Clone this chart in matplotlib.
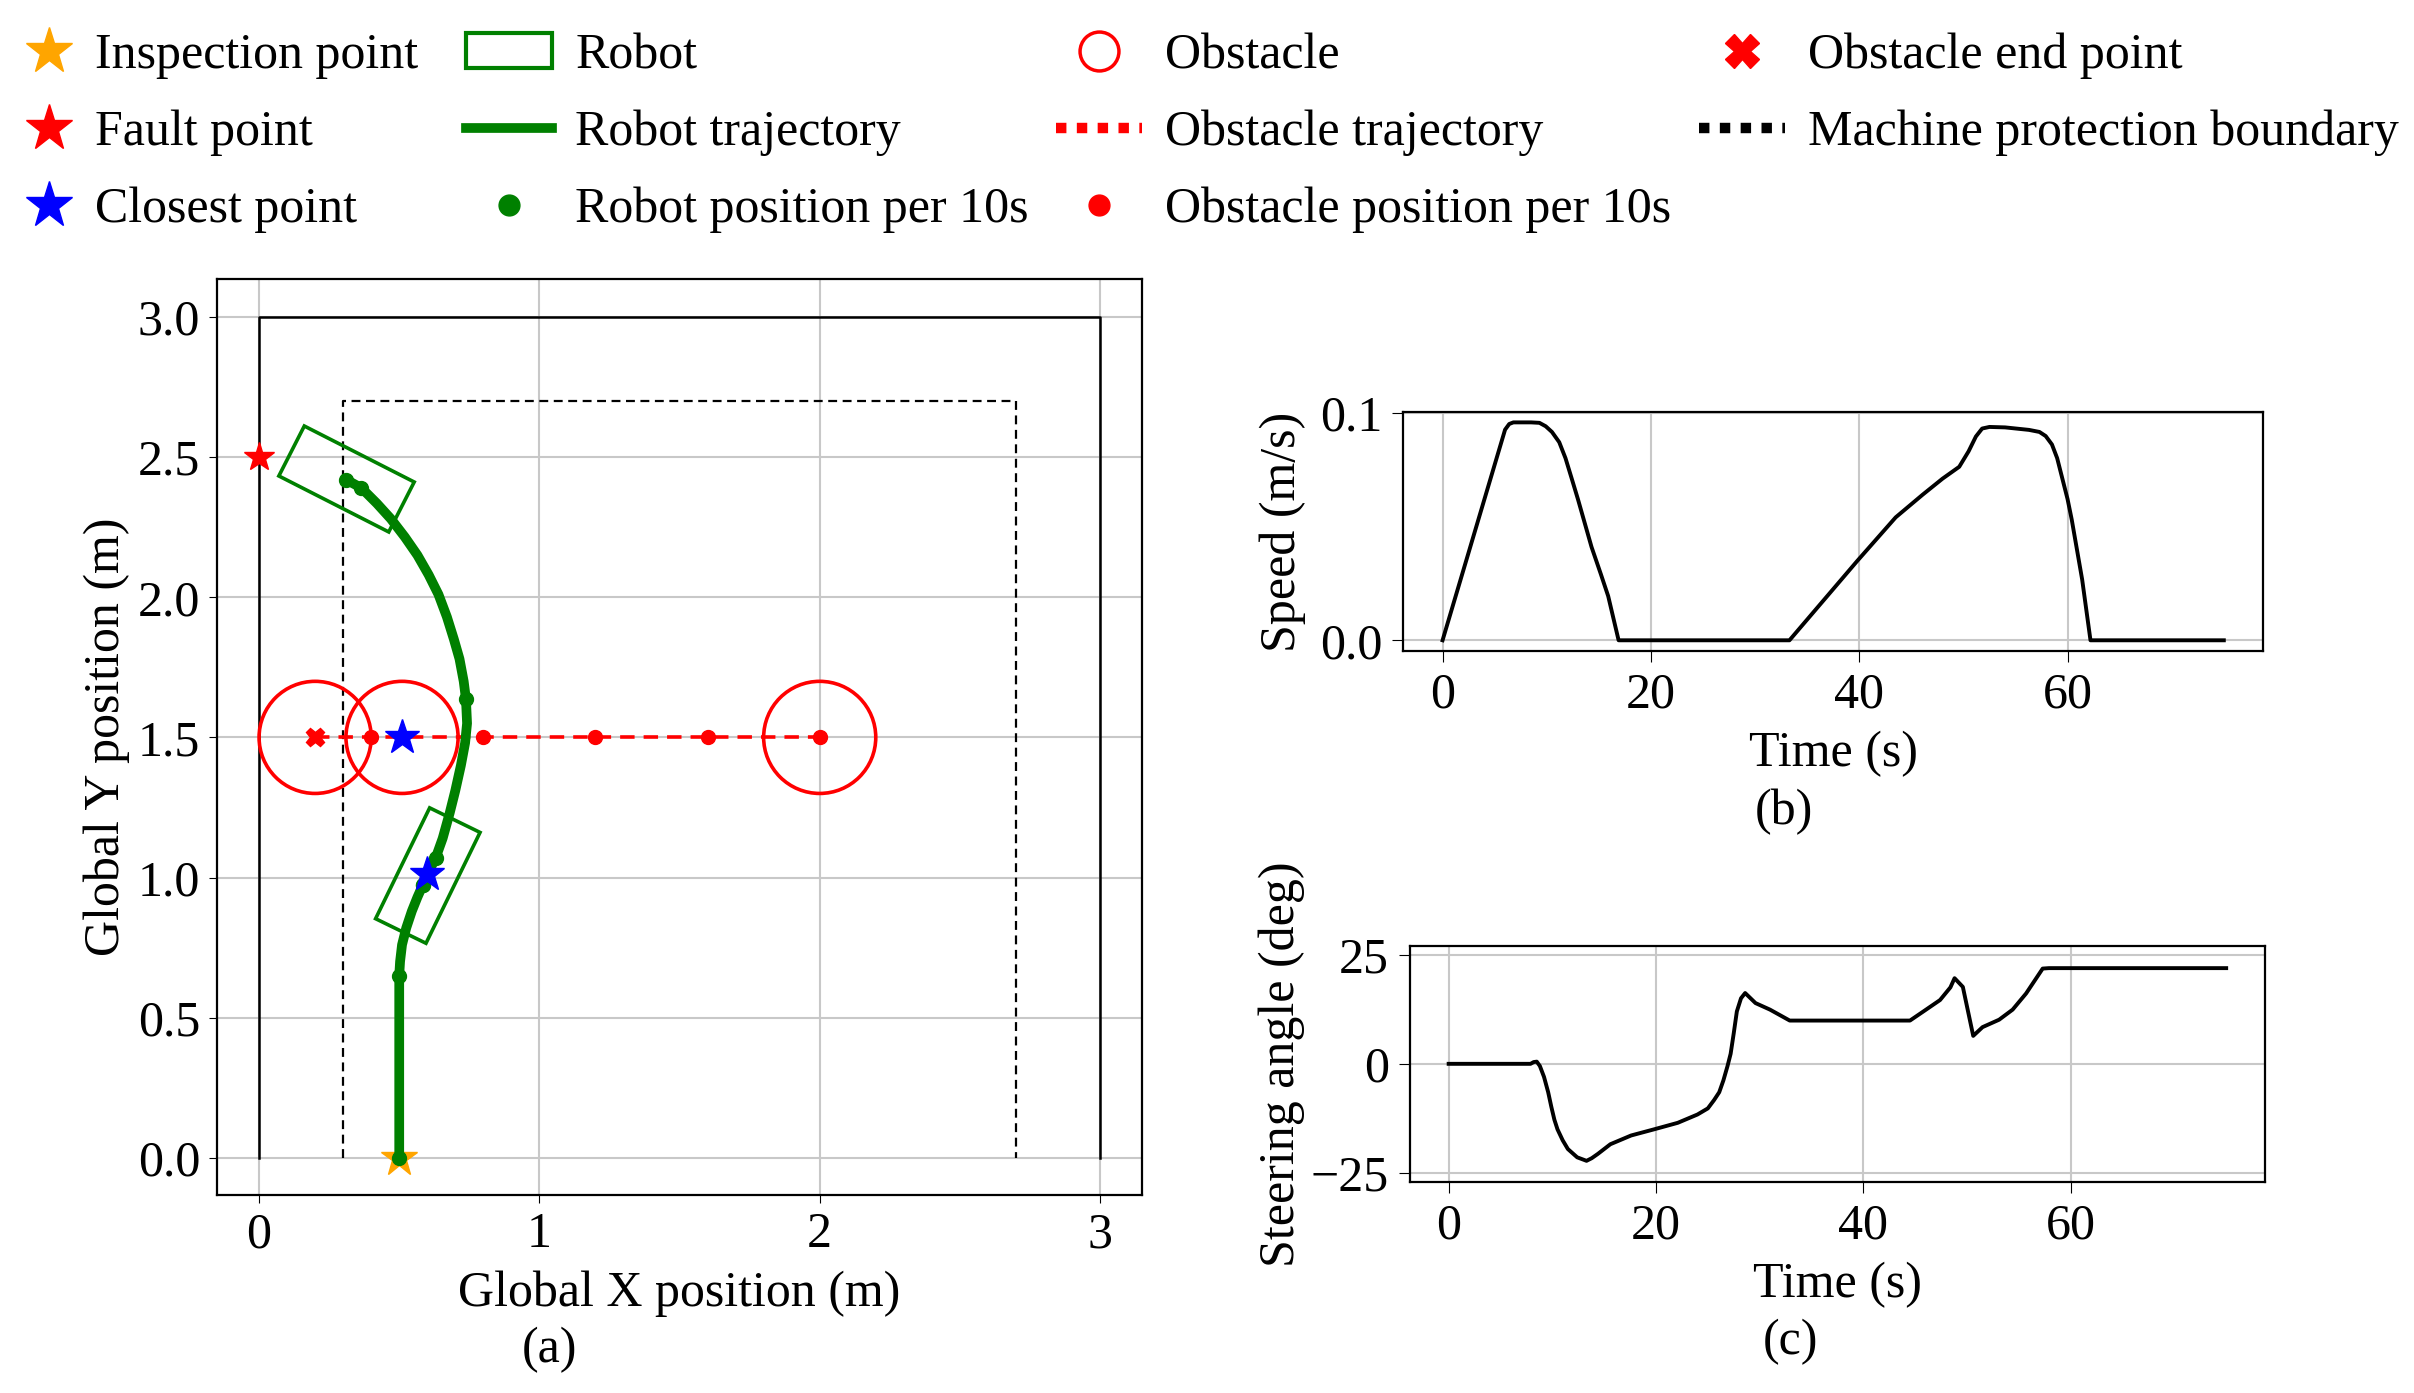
import numpy as np
import matplotlib
matplotlib.use('Agg')
import matplotlib.pyplot as plt
from matplotlib.lines import Line2D
from matplotlib.patches import Patch, Rectangle, Circle

plt.rcParams['font.family'] = 'serif'
plt.rcParams['font.serif'] = ['Liberation Serif', 'DejaVu Serif']
plt.rcParams['font.size'] = 36
plt.rcParams['axes.linewidth'] = 1.6
plt.rcParams['axes.labelpad'] = 6
plt.rcParams['xtick.major.size'] = 6
plt.rcParams['ytick.major.size'] = 6
plt.rcParams['xtick.major.pad'] = 6
plt.rcParams['ytick.major.pad'] = 6

# ---- data ----
# (a) robot path (m)
traj_x = [0.50, 0.50, 0.503, 0.51, 0.525, 0.545, 0.565, 0.585, 0.61, 0.63, 0.655,
          0.68, 0.70, 0.72, 0.735, 0.742, 0.738, 0.73, 0.715, 0.695, 0.67, 0.64,
          0.605, 0.565, 0.52, 0.47, 0.42, 0.385, 0.365, 0.31]
traj_y = [0.00, 0.65, 0.70, 0.76, 0.82, 0.88, 0.93, 0.975, 1.03, 1.07, 1.14,
          1.23, 1.31, 1.40, 1.48, 1.55, 1.637, 1.70, 1.78, 1.85, 1.93, 2.01,
          2.08, 2.15, 2.215, 2.28, 2.335, 2.37, 2.39, 2.42]
# robot position every 10 s (t = 0..70)
rob_x = [0.50, 0.50, 0.585, 0.585, 0.63, 0.738, 0.365, 0.31]
rob_y = [0.00, 0.65, 0.975, 0.975, 1.07, 1.637, 2.39, 2.42]
# robot footprint snapshots
box_cx = [0.602, 0.312]
box_cy = [1.007, 2.422]
box_ang = [64, 153]
robot_len, robot_wid = 0.44, 0.20
# obstacle
obs_pos_x = [2.0, 1.6, 1.2, 0.8, 0.4]
obs_y = 1.5
obs_end_x = 0.2
obs_circle_x = [2.0, 0.51, 0.2]
obs_r = 0.2
# special points
insp_pt = (0.5, 0.0)
fault_pt = (0.0, 2.5)
closest_x = [0.51, 0.598]
closest_y = [1.5, 1.013]
# boundaries
wall = 3.0
protect_lo, protect_hi = 0.3, 2.7

# (b) speed
t_speed = [0, 6.0, 6.4, 6.8, 8.5, 9.3, 9.9, 10.5, 11.2, 11.8, 12.4, 13.0, 14.3,
           15.2, 15.9, 16.9, 33.3, 39.8, 43.5, 46.1, 48.0, 49.6, 50.5, 51.2,
           51.8, 52.5, 54.0, 56.3, 57.3, 57.9, 58.5, 59.0, 59.5, 60.0, 60.4,
           61.4, 62.2, 75]
speed = [0, 0.0925, 0.095, 0.0957, 0.0957, 0.0955, 0.094, 0.0915, 0.087, 0.080,
         0.071, 0.0619, 0.041, 0.029, 0.0194, 0, 0, 0.0348, 0.054, 0.064, 0.071,
         0.0762, 0.083, 0.0895, 0.093, 0.0937, 0.0935, 0.0924, 0.0915, 0.0897,
         0.086, 0.080, 0.071, 0.062, 0.053, 0.0267, 0, 0]

# (c) steering angle
t_steer = [0, 7.9, 8.2, 8.5, 8.8, 9.2, 9.6, 9.9, 10.2, 10.5, 11.0, 11.5, 12.4, 13.3,
           13.8, 14.4, 15.6, 17.6, 19.8, 22.1, 24.0, 25.0, 25.6, 26.1, 26.5, 26.9,
           27.2, 27.5, 27.8, 28.2, 28.6, 29.6, 31.0, 32.9, 44.5, 45.8, 47.4, 48.4,
           48.8, 49.6, 50.6, 51.5, 53.1, 54.4, 55.7, 57.3, 57.9, 75]
steer = [0, 0, 0.4, 0.5, -0.5, -3, -6.5, -9.8, -12.8, -15, -17.5, -19.5, -21.4,
         -22.2, -21.6, -20.6, -18.4, -16.4, -15, -13.5, -11.6, -10.2, -8.3, -6.5,
         -3.8, -0.5, 2.3, 7, 12, 15, 16.2, 13.9, 12.4, 9.9, 9.9, 12.0, 14.6, 17.5,
         19.6, 17.6, 6.4, 8.4, 10.1, 12.4, 16.1, 21.8, 21.9, 21.9]

fig = plt.figure(figsize=(24.14, 13.93), dpi=100)

# ---------------- (a) ----------------
ax = fig.add_axes([0.0899, 0.1421, 0.3832, 0.6577])
ax.grid(True, color='#c8c8c8', lw=1.5, zorder=0)
ax.plot([0, 0, wall, wall], [0, wall, wall, 0], color='black', lw=1.8, zorder=2)
ax.plot([protect_lo, protect_lo, protect_hi, protect_hi],
        [0, protect_hi, protect_hi, 0], color='black', lw=1.6, ls=(0, (4, 2.5)), zorder=2)

ax.plot([obs_end_x, obs_pos_x[0]], [obs_y, obs_y], color='red', lw=2.6, ls=(0, (4, 2.5)), zorder=3)
for cx in obs_circle_x:
    ax.add_patch(Circle((cx, obs_y), obs_r, fill=False, edgecolor='red', lw=2.6, zorder=3))
ax.plot(obs_pos_x, [obs_y] * len(obs_pos_x), 'o', color='red', ms=10, zorder=4)
ax.plot(obs_end_x, obs_y, 'X', color='red', ms=13, zorder=4)

ax.plot(insp_pt[0], insp_pt[1], '*', color='orange', ms=28, zorder=4)
ax.plot(traj_x, traj_y, color='green', lw=7, solid_capstyle='round',
        solid_joinstyle='round', zorder=5)
for cx, cy, a in zip(box_cx, box_cy, box_ang):
    ax.add_patch(Rectangle((cx - robot_len / 2, cy - robot_wid / 2), robot_len, robot_wid,
                           angle=a, rotation_point='center', fill=False,
                           edgecolor='green', lw=2.6, zorder=5))
ax.plot(rob_x, rob_y, 'o', color='green', ms=10, zorder=6)
ax.plot(fault_pt[0], fault_pt[1], '*', color='red', ms=22, zorder=6)
ax.plot(closest_x, closest_y, '*', color='blue', ms=26, zorder=7)

ax.set_xlim(-0.15, 3.15)
ax.set_ylim(-0.133, 3.136)
ax.set_xticks([0, 1, 2, 3])
ax.set_yticks(np.arange(0, 3.01, 0.5))
ax.set_yticklabels(['0.0', '0.5', '1.0', '1.5', '2.0', '2.5', '3.0'])
ax.set_xlabel('Global X position (m)', labelpad=9)
ax.set_ylabel('Global Y position (m)')

# ---------------- (b) ----------------
ax2 = fig.add_axes([0.5814, 0.5325, 0.3560, 0.1718])
ax2.grid(True, color='#c8c8c8', lw=1.5)
ax2.plot(t_speed, speed, color='black', lw=2.8, solid_joinstyle='round')
ax2.set_xlim(-3.75, 78.75)
ax2.set_ylim(-0.0048, 0.1003)
ax2.set_xticks([0, 20, 40, 60])
ax2.set_yticks([0, 0.1])
ax2.set_yticklabels(['0.0', '0.1'])
ax2.tick_params(length=8, pad=7)
ax2.set_xlabel('Time (s)', labelpad=9)
ax2.set_ylabel('Speed (m/s)', labelpad=10)

# ---------------- (c) ----------------
ax3 = fig.add_axes([0.5840, 0.1513, 0.3543, 0.1697])
ax3.grid(True, color='#c8c8c8', lw=1.5)
ax3.plot(t_steer, steer, color='black', lw=2.8, solid_joinstyle='round')
ax3.set_xlim(-3.75, 78.75)
ax3.set_ylim(-27.1, 27.0)
ax3.set_xticks([0, 20, 40, 60])
ax3.set_yticks([-25, 0, 25])
ax3.tick_params(length=8, pad=7)
ax3.set_xlabel('Time (s)', labelpad=9)
ax3.set_ylabel('Steering angle (deg)', labelpad=4)

fig.text(0.2277, 0.031, '(a)', ha='center', va='center')
fig.text(0.739, 0.417, '(b)', ha='center', va='center')
fig.text(0.7416, 0.037, '(c)', ha='center', va='center')

# ---------------- legend ----------------
pt_handles = [
    Line2D([], [], ls='none', marker='*', color='orange', ms=35),
    Line2D([], [], ls='none', marker='*', color='red', ms=35),
    Line2D([], [], ls='none', marker='*', color='blue', ms=35),
]
pt_labels = ['Inspection point', 'Fault point', 'Closest point']
other_handles = [
    Patch(facecolor='none', edgecolor='green', lw=3),
    Line2D([], [], color='green', lw=7),
    Line2D([], [], ls='none', marker='o', color='green', ms=15),
    Line2D([], [], ls='none', marker='o', mfc='none', mec='red', mew=2.5, ms=28),
    Line2D([], [], color='red', lw=7.5, ls=(0, (1, 1))),
    Line2D([], [], ls='none', marker='o', color='red', ms=15),
    Line2D([], [], ls='none', marker='X', color='red', ms=24),
    Line2D([], [], color='black', lw=7.5, ls=(0, (1, 1))),
]
other_labels = ['Robot', 'Robot trajectory', 'Robot position per 10s',
                'Obstacle', 'Obstacle trajectory', 'Obstacle position per 10s',
                'Obstacle end point', 'Machine protection boundary']
leg_kw = dict(frameon=False, labelspacing=0.61, borderaxespad=0.0, loc='upper left')
fig.legend(pt_handles, pt_labels, ncol=1, bbox_to_anchor=(0.0017, 0.991),
           handlelength=1.0, handletextpad=0.42, **leg_kw)
fig.legend(other_handles, other_labels, ncol=3, bbox_to_anchor=(0.1848, 0.991),
           handlelength=1.72, handletextpad=0.46, columnspacing=0.55, **leg_kw)

plt.savefig('out.png', dpi=100)
